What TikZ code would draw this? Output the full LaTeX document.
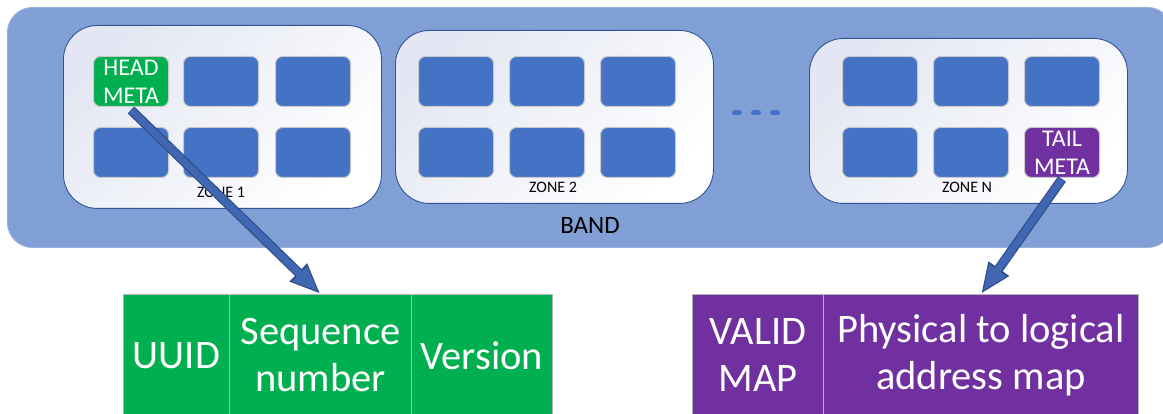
\documentclass[tikz,border=0pt]{standalone}
\usepackage{fontspec}
\setmainfont{Carlito}
\usetikzlibrary{arrows.meta}

\definecolor{bandfill}{HTML}{7F9FD5}
\definecolor{bandedge}{HTML}{9AAFD9}
\definecolor{zoneedge}{HTML}{2F5597}
\definecolor{zonetint}{HTML}{E4E7F3}
\definecolor{blockblue}{HTML}{4472C4}
\definecolor{blockedge}{HTML}{C8C8C8}
\definecolor{metagreen}{HTML}{00B050}
\definecolor{metapurple}{HTML}{7030A0}
\definecolor{celledge}{HTML}{B4B4B4}
\definecolor{arrowfill}{HTML}{4267B2}
\definecolor{arrowedge}{HTML}{2F4F8C}

\tikzset{
  bandbox/.style={draw=bandedge, line width=1pt, fill=bandfill, rounded corners=25pt,
    anchor=north west, inner sep=0pt},
  zonebox/.style={draw=zoneedge, line width=0.9pt, rounded corners=34pt,
    top color=zonetint, bottom color=white, shading angle=45,
    anchor=north west, inner sep=0pt, minimum width=318pt},
  block/.style={draw=blockedge, line width=1pt, fill=blockblue, rounded corners=7pt,
    anchor=north west, inner sep=0pt, minimum width=75pt, minimum height=50pt,
    text=white, align=center, font=\fontsize{24}{28}\selectfont},
  zonelabel/.style={font=\fontsize{16}{18}\selectfont, inner sep=0pt},
  cell/.style={draw=celledge, line width=1pt, anchor=north west, inner sep=0pt,
    minimum height=122pt, text=white, align=center,
    font=\fontsize{40.5}{47}\selectfont},
  arrowout/.style={draw=arrowedge, line width=9.5pt,
    -{Triangle[width=23pt,length=31pt]}},
  arrowin/.style={draw=arrowfill, line width=7pt, shorten >=3.5pt,
    -{Triangle[width=19pt,length=25.5pt]}},
}

\begin{document}
\begin{tikzpicture}[x=1pt,y=-1pt]
\useasboundingbox (0,0) rectangle (1163,414);
\clip (0,0) rectangle (1163,414);

% band
\node[bandbox, minimum width=1165pt, minimum height=240pt] (band) at (7,7) {};
\node[font=\fontsize{25}{28}\selectfont, inner sep=0pt] (bandlabel) at (590,225) {BAND};

% zones
\node[zonebox, minimum height=183pt] (zone1) at (63,25) {};
\node[zonebox, minimum height=173pt] (zone2) at (395,30) {};
\node[zonebox, minimum height=165pt] (zoneN) at (809,38) {};

% zone 1 blocks
\node[block, fill=metagreen] (head) at (93,56) {HEAD\\META};
\node[block] (z1b2) at (183,56) {};
\node[block] (z1b3) at (275,56) {};
\node[block] (z1b4) at (93,127) {};
\node[block] (z1b5) at (183,127) {};
\node[block] (z1b6) at (275,127) {};

% zone 2 blocks
\node[block] (z2b1) at (418,56) {};
\node[block] (z2b2) at (509,56) {};
\node[block] (z2b3) at (600,56) {};
\node[block] (z2b4) at (418,127) {};
\node[block] (z2b5) at (509,127) {};
\node[block] (z2b6) at (600,127) {};

% zone N blocks
\node[block] (zNb1) at (842,56) {};
\node[block] (zNb2) at (933,56) {};
\node[block] (zNb3) at (1024,56) {};
\node[block] (zNb4) at (842,127) {};
\node[block] (zNb5) at (933,127) {};
\node[block, fill=metapurple] (tail) at (1024,127) {TAIL\\META};

% zone labels
\node[zonelabel] (lab1) at (221,192) {ZONE 1};
\node[zonelabel] (lab2) at (553,187) {ZONE 2};
\node[zonelabel] (labN) at (967,187) {ZONE N};

% ellipsis between zones
\coordinate (dotsA) at (734.5,113);
\coordinate (dotsB) at (778,113);
\draw[blockblue, line width=5pt, line cap=round, dash pattern=on 5pt off 14pt]
  (dotsA) -- (dotsB);

% head metadata layout
\node[cell, fill=metagreen, minimum width=106pt] (uuid) at (123,294) {UUID};
\node[cell, fill=metagreen, minimum width=182pt] (seq) at (229,294) {Sequence\\number};
\node[cell, fill=metagreen, minimum width=141pt] (ver) at (411,294) {Version};

% tail metadata layout
\node[cell, fill=metapurple, minimum width=131pt] (valid) at (692,294) {VALID\\MAP};
\node[cell, fill=metapurple, minimum width=315pt] (phys) at (823,294) {Physical to logical\\address map};

% arrows from the metadata blocks to their layouts
\draw[arrowout] ([yshift=-3pt]head.south) -- (seq.north);
\draw[arrowin]  ([yshift=-3pt]head.south) -- (seq.north);
\draw[arrowout] ([yshift=-1pt]tail.south) -- (phys.north);
\draw[arrowin]  ([yshift=-1pt]tail.south) -- (phys.north);
\end{tikzpicture}
\end{document}
